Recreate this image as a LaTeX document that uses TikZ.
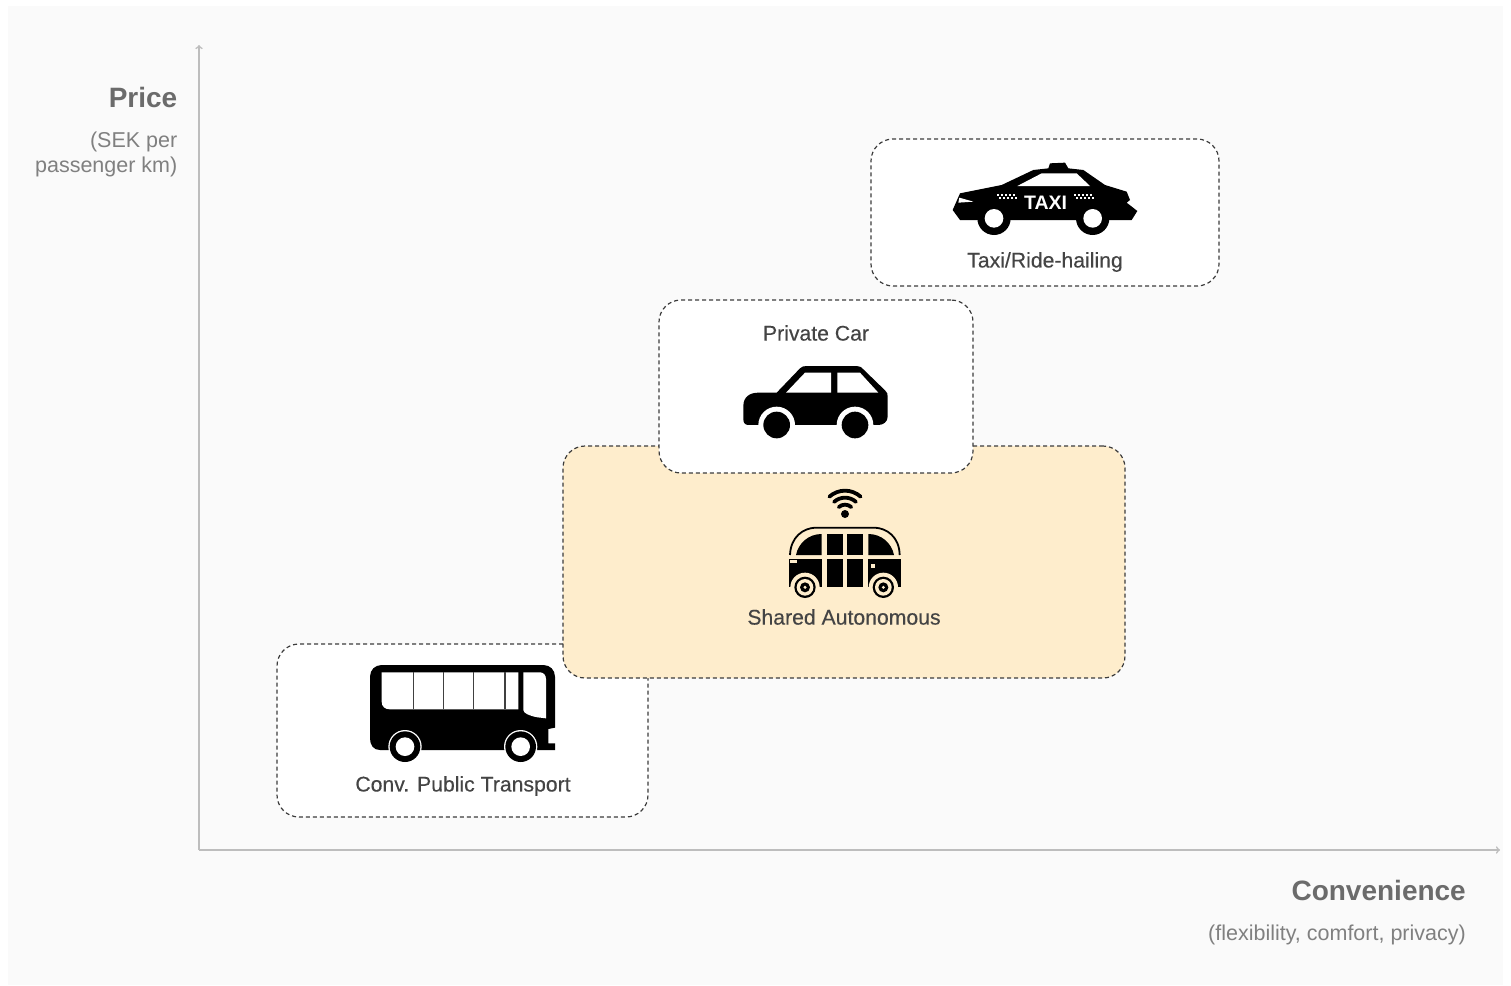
\documentclass[tikz,border=0pt]{standalone}
\usepackage{fontspec}
\setmainfont{Liberation Sans}
\newfontfamily\mediumfont[FakeBold=0.3]{Liberation Sans}
\definecolor{panelgray}{HTML}{FAFAFA}
\definecolor{axisgray}{HTML}{BDBDBD}
\definecolor{dashgray}{HTML}{3C3C3C}
\definecolor{cream}{HTML}{FEEDCC}
\definecolor{labelgray}{HTML}{444444}
\definecolor{titlegray}{HTML}{6B6B6B}
\definecolor{subgray}{HTML}{808080}
\tikzset{
    card/.style = {draw=dashgray, line width=1.2pt, dash pattern=on 4pt off 3pt, fill=white, rounded corners=22pt, inner sep=0pt},
    axis/.style = {axisgray, line width=1.6pt, ->},
    label/.style = {text=labelgray, font=\fontsize{21.2}{24}\selectfont\mediumfont, inner sep=0pt},
    title/.style = {text=titlegray, font=\fontsize{28}{32}\selectfont\bfseries, inner sep=0pt, anchor=east},
    sub/.style = {text=subgray, font=\fontsize{21.5}{24}\selectfont, inner sep=0pt, anchor=east}
}
\begin{document}
\begin{tikzpicture}[x=1pt, y=-1pt]
    \useasboundingbox (0,0) rectangle (1511,985);
    \fill[white] (0,0) rectangle (1511,985);
    \fill[panelgray] (8,6) rectangle (1503,985);

    \coordinate (origin) at (199,850);
    \coordinate (ytip) at (199,45);
    \coordinate (xtip) at (1500,850);
    \draw[axis] (origin) -- (ytip);
    \draw[axis] (origin) -- (xtip);

    \node[title] (price) at (177.5,97) {Price};
    \node[sub] (sek) at (177.5,142) {(SEK per};
    \node[sub] (km) at (177.5,167) {passenger km)};
    \node[title] (convenience) at (1466,890) {Convenience};
    \node[sub] (flex) at (1466,935) {(flexibility, comfort, privacy)};

    \node[card, minimum width=371pt, minimum height=173pt] (busbox) at (462.5,730.5) {};
    \node[card, fill=cream, minimum width=562pt, minimum height=232pt] (sharedbox) at (844,562) {};
    \node[card, minimum width=314pt, minimum height=173pt] (carbox) at (816,386.5) {};
    \node[card, minimum width=348pt, minimum height=147pt] (taxibox) at (1045,212.5) {};

    \node[label] (taxilabel) at (1045,262) {Taxi/Ride-hailing};
    \node[label] (carlabel) at (816,333) {Private Car};
    \node[label] (sharedlabel) at (844,617) {Shared Autonomous};
    \node[label] (buslabel) at (463,786) {Conv. Public Transport};

    \begin{scope}[shift={(930,150)}, scale=1/3]
        \fill[black] (68,180) -- (90,130) -- (215,105) -- (310,60) -- (355,55) -- (360,40) -- (405,38) -- (415,55) -- (460,60) -- (525,105) -- (590,125) -- (600,150) -- (590,158) -- (622,183) -- (605,210) -- (90,210) -- cycle;
        \fill[white] (262,108) -- (335,70) -- (440,70) -- (480,108) -- cycle;
        \fill[white] (88,143) -- (130,155) -- (85,158) -- cycle;
        \fill[black] (192,205) circle (50);
        \fill[black] (488,205) circle (50);
        \fill[white] (192,205) circle (28);
        \fill[white] (488,205) circle (28);
        \foreach \xa in {230,462} {
            \foreach \i in {-2,...,2} {
                \fill[white] (\xa+\i*12-5,132) rectangle ++(6,6);
                \fill[white] (\xa+\i*12+1,141) rectangle ++(6,6);
            }
        }
    \end{scope}
    \node[text=white, font=\fontsize{19.5}{22}\selectfont\bfseries, inner sep=0pt] (taxisign) at (1045.5,203) {TAXI};

    \begin{scope}[shift={(730,350)}, scale=1/3]
        \fill[black] (55,225) .. controls (45,225) and (40,218) .. (40,208) -- (40,168) .. controls (40,140) and (60,128) .. (85,128) -- (140,128) -- (210,55) .. controls (215,50) and (220,48) .. (230,48) -- (380,48) .. controls (390,48) and (395,52) .. (400,58) -- (466,122) .. controls (472,128) and (473,132) .. (473,140) -- (473,200) .. controls (473,215) and (460,225) .. (445,225) -- cycle;
        \fill[white] (140,225) circle (55);
        \fill[white] (375,225) circle (55);
        \fill[white] (30,226) rectangle (480,270);
        \fill[black] (140,225) circle (40);
        \fill[black] (375,225) circle (40);
        \fill[white] (168,128) -- (225,68) -- (303,68) -- (303,128) -- cycle;
        \fill[white] (322,68) -- (390,68) -- (445,128) -- (322,128) -- cycle;
    \end{scope}

    \begin{scope}[shift={(770,480)}, scale=1/3]
        \fill[black] (225,102) circle (12);
        \foreach \r in {28,49,70} {
            \draw[black, line width=3.8pt, line cap=round] (225,102) ++(-48:\r) arc[start angle=-48, end angle=-132, radius=\r];
        }
        \draw[black, line width=1.8pt] (60,225) .. controls (62,170) and (100,145) .. (135,143) -- (315,143) .. controls (350,145) and (388,170) .. (389,225);
        \fill[black] (78,225) .. controls (85,190) and (115,162) .. (155,162) -- (155,225) -- cycle;
        \fill[black] (170,162) rectangle (218,225);
        \fill[black] (232,162) rectangle (280,225);
        \fill[black] (295,162) .. controls (335,162) and (365,190) .. (372,225) -- (295,225) -- cycle;
        \fill[black] (57,238) rectangle (155,322);
        \fill[black] (170,238) rectangle (218,322);
        \fill[black] (232,238) rectangle (280,322);
        \fill[black] (295,238) rectangle (392,322);
        \fill[cream] (60,241) rectangle (82,250);
        \fill[cream] (304,251) rectangle (316,263);
        \foreach \xw in {105,340} {
            \fill[cream] (\xw,322) circle (44);
            \fill[black] (\xw,322) circle (32);
            \fill[cream] (\xw,322) circle (25);
            \fill[black] (\xw,322) circle (15);
            \fill[cream] (\xw,322) circle (5);
        }
        \fill[cream] (40,322.5) rectangle (60,350);
        \fill[cream] (385,322.5) rectangle (405,350);
    \end{scope}

    \begin{scope}[shift={(355,655)}, scale=1/3]
        \fill[black] (75,285) .. controls (55,285) and (45,270) .. (45,250) -- (45,65) .. controls (45,45) and (60,30) .. (80,30) -- (565,30) .. controls (585,30) and (600,45) .. (600,65) -- (600,218) -- (580,222) -- (580,265) -- (600,265) -- (600,285) -- cycle;
        \fill[white] (80,52) -- (80,140) .. controls (80,155) and (90,163) .. (105,163) -- (490,163) -- (490,52) -- cycle;
        \foreach \xd in {175,265,355,450} {
            \draw[black!75, line width=1.5pt] (\xd,52) -- (\xd,163);
        }
        \fill[white] (505,165) -- (505,52) -- (555,52) .. controls (565,52) and (573,60) .. (573,72) -- (573,190) -- (548,187) .. controls (525,183) and (505,175) .. (505,165) -- cycle;
        \foreach \xw in {150,497} {
            \fill[white] (\xw,275) circle (50);
            \fill[black] (\xw,275) circle (46);
            \fill[white] (\xw,275) circle (28);
        }
    \end{scope}
\end{tikzpicture}
\end{document}
